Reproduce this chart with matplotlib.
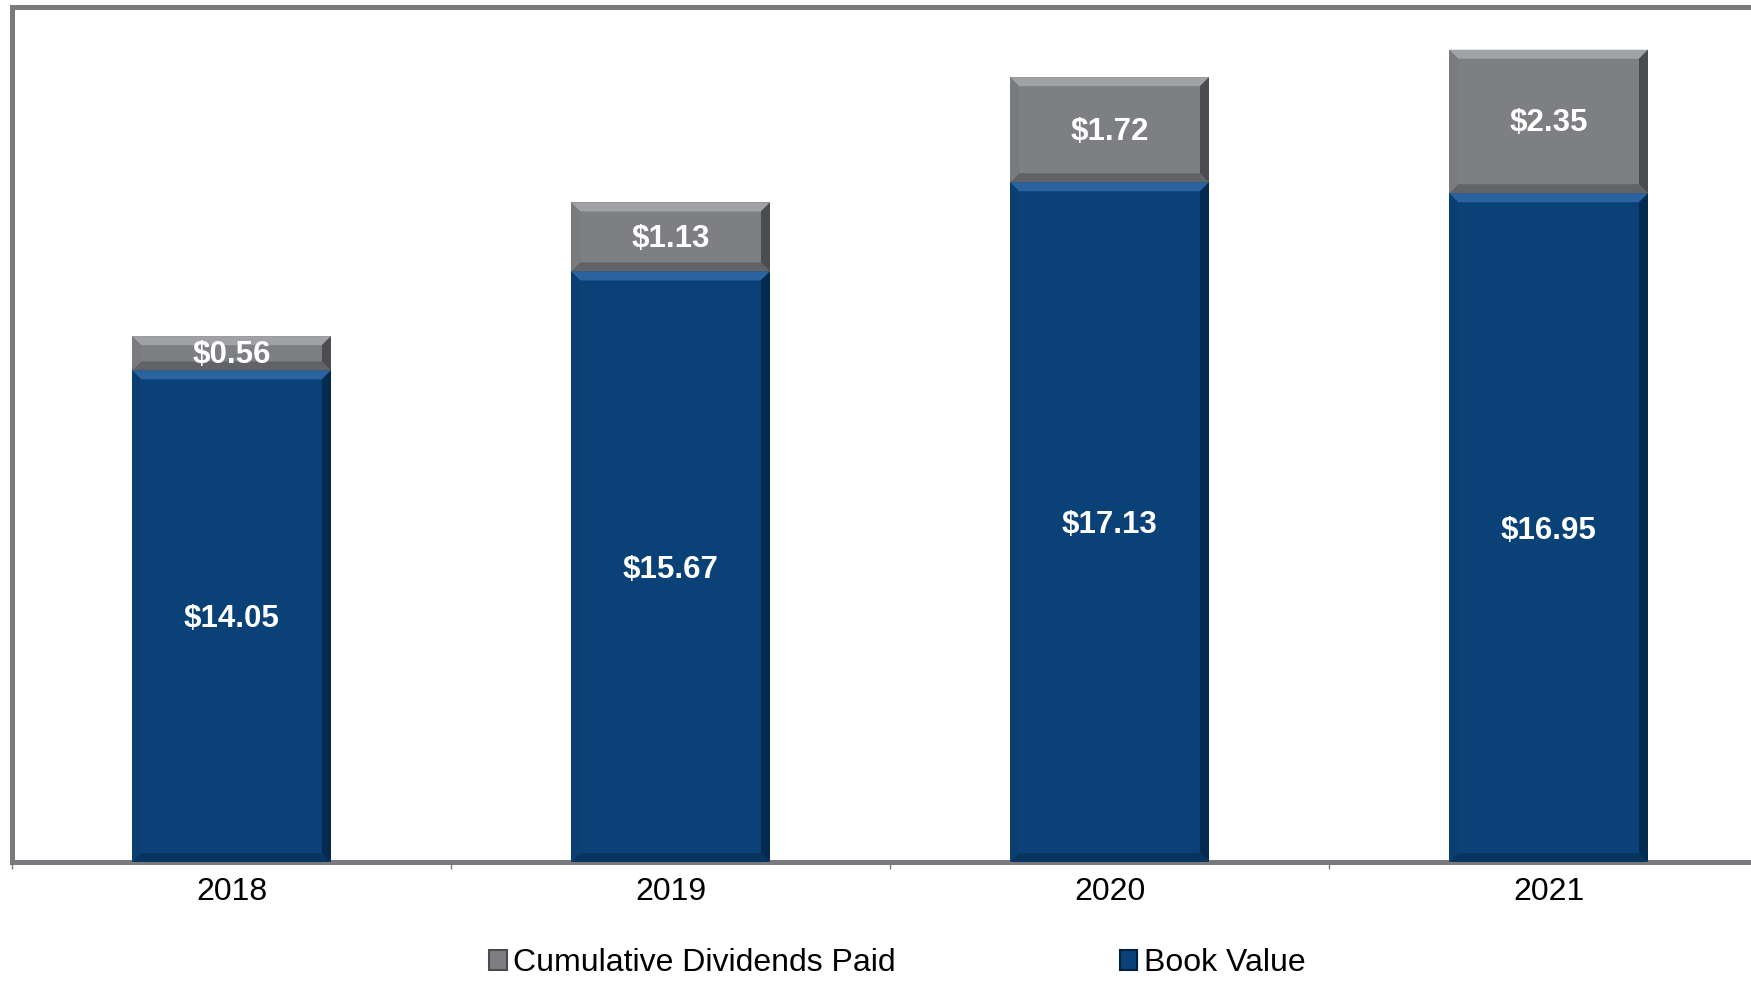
import matplotlib
matplotlib.use('Agg')
import matplotlib.pyplot as plt
from matplotlib.patches import Polygon, Patch
import numpy as np

plt.rcParams['font.family'] = ['Liberation Sans', 'DejaVu Sans']

# data
years = ['2018', '2019', '2020', '2021']
book_value = [14.05, 15.67, 17.13, 16.95]
dividends = [0.56, 1.13, 1.72, 2.35]

blue = '#0A4277'
gray = '#7E7F83'
spine_col = '#787A7D'

fig = plt.figure(figsize=(17.51, 9.82), dpi=100)
ax = fig.add_axes([0.00685, 0.1222, 1.0029, 0.8707])

x = np.arange(len(years))
bw = 0.453
ymin, ymax = 6, 20
ax.set_xlim(-0.5, len(years) - 0.5)
ax.set_ylim(ymin, ymax)

b1 = ax.bar(x, book_value, bw, color=blue, zorder=2)
b2 = ax.bar(x, dividends, bw, bottom=book_value, color=gray, zorder=2)

# bevel effect on each bar segment
fw, fh = fig.get_size_inches() * fig.dpi
ax_w = ax.get_position().width * fw
ax_h = ax.get_position().height * fh
px_x = (len(years)) / ax_w
px_y = (ymax - ymin) / ax_h


def bevel(patch, light, mid, dark, darker, bpx=9):
    x0, y0 = patch.get_x(), max(patch.get_y(), ymin)
    x1, y1 = x0 + patch.get_width(), patch.get_y() + patch.get_height()
    bx, by = bpx * px_x, bpx * px_y
    by = min(by, (y1 - y0) / 3)
    polys = [
        ([(x0, y1), (x1, y1), (x1 - bx, y1 - by), (x0 + bx, y1 - by)], light),
        ([(x0, y0), (x1, y0), (x1 - bx, y0 + by), (x0 + bx, y0 + by)], darker),
        ([(x0, y0), (x0, y1), (x0 + bx, y1 - by), (x0 + bx, y0 + by)], mid),
        ([(x1, y0), (x1, y1), (x1 - bx, y1 - by), (x1 - bx, y0 + by)], dark),
    ]
    for pts, c in polys:
        ax.add_patch(Polygon(pts, closed=True, facecolor=c, edgecolor='none', zorder=3))


for p in b1:
    bevel(p, '#2A63A0', '#0B3F71', '#052A50', '#07355F')
for p in b2:
    bevel(p, '#A0A2A5', '#7A7B7F', '#4B4C4F', '#626366')

# value labels
for i in range(len(years)):
    ax.text(x[i], (ymin + book_value[i]) / 2 - 0.05, f'${book_value[i]:.2f}',
            ha='center', va='center', color='white', fontsize=22.5,
            fontweight='bold', zorder=4)
    ax.text(x[i], book_value[i] + dividends[i] / 2 - 0.03, f'${dividends[i]:.2f}',
            ha='center', va='center', color='white', fontsize=22.5,
            fontweight='bold', zorder=4)

# axes styling
for s in ['left', 'top', 'bottom']:
    ax.spines[s].set_color(spine_col)
    ax.spines[s].set_linewidth(3.6)
ax.spines['right'].set_visible(False)
ax.set_yticks([])
ax.set_xticks(x)
ax.set_xticklabels(years, fontsize=23)
ax.set_xticks(np.arange(-0.5, len(years) - 0.5, 1), minor=True)
ax.tick_params(axis='x', which='major', length=0, pad=11)
ax.tick_params(axis='x', which='minor', length=5, width=1, color=spine_col, direction='out')

# legend
handles = [Patch(facecolor=gray, edgecolor='#4A4B4E', linewidth=1.5),
           Patch(facecolor=blue, edgecolor='#03203F', linewidth=1.5)]
fig.legend(handles, ['Cumulative Dividends Paid', 'Book Value'],
           loc='center', bbox_to_anchor=(0.5125, 0.019), ncol=2, frameon=False,
           fontsize=23, handlelength=0.55, handleheight=0.55,
           handletextpad=0.2, columnspacing=7.0, borderaxespad=0)

fig.savefig('out.png', dpi=100)
